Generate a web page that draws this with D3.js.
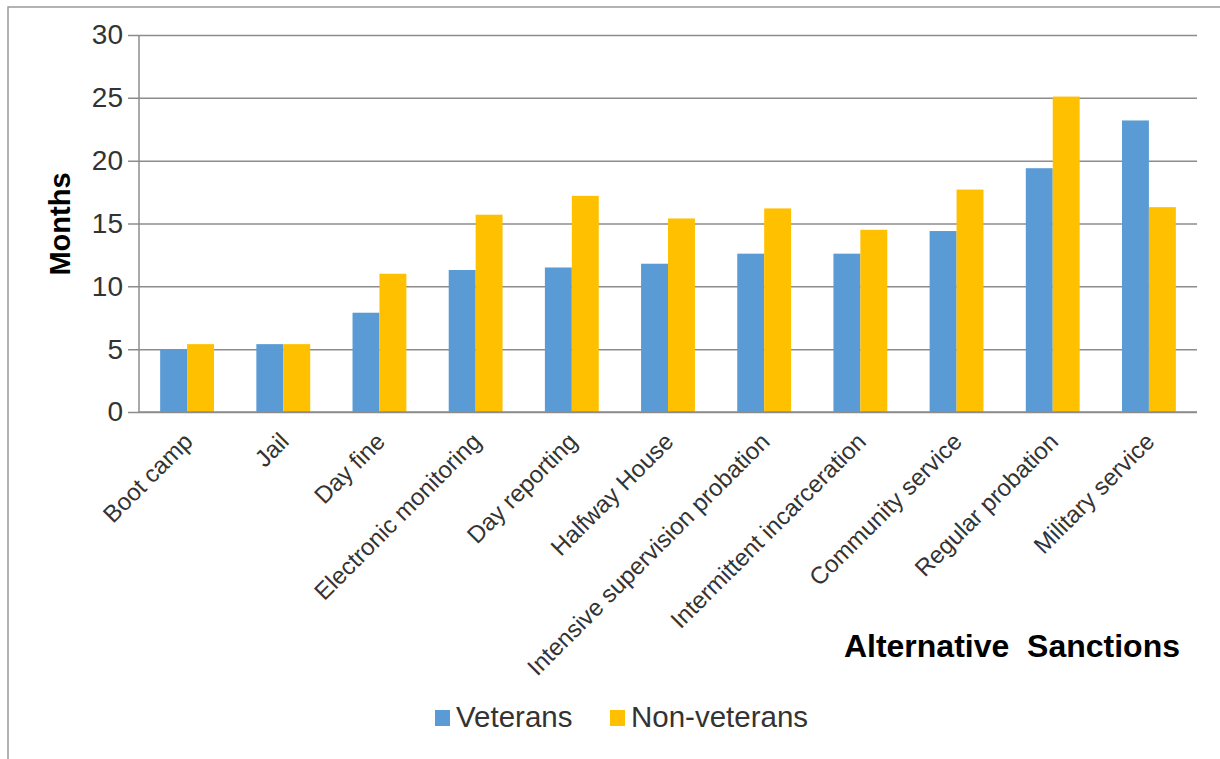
<!DOCTYPE html>
<html>
<head>
<meta charset="utf-8">
<script src="https://cdn.jsdelivr.net/npm/d3@7"></script>
<style>
    html, body { margin: 0; padding: 0; background: #fff; }
    text { font-family: Arial, "Liberation Sans", sans-serif; }
</style>
</head>
<body>
<div id="graphDiv"></div>
<script>
// data
var categories = ["Boot camp", "Jail", "Day fine", "Electronic monitoring", "Day reporting",
    "Halfway House", "Intensive supervision probation", "Intermittent incarceration",
    "Community service", "Regular probation", "Military service"];
var veterans = [5.0, 5.4, 7.9, 11.3, 11.5, 11.8, 12.6, 12.6, 14.4, 19.4, 23.2];
var nonVeterans = [5.4, 5.4, 11.0, 15.7, 17.2, 15.4, 16.2, 14.5, 17.7, 25.1, 16.3];
var seriesNames = ["Veterans", "Non-veterans"];
var yTicks = [0, 5, 10, 15, 20, 25, 30];

(function () {
    var colors = ["#5B9BD5", "#FFC000"];
    var W = 1220, H = 759;
    // plot area (px); "top" is taken by window.top so prefix everything
    var pLeft = 139, pRight = 1197, pTop = 35, pBottom = 412;

    var svg = d3.select("#graphDiv").append("svg")
        .attr("width", W)
        .attr("height", H);

    // outer chart border (cropped on right and bottom)
    svg.append("rect")
        .attr("x", 8).attr("y", 7)
        .attr("width", 1300).attr("height", 900)
        .attr("fill", "#fff")
        .attr("stroke", "#9a9a9a")
        .attr("stroke-width", 1.5);

    var xScale = d3.scaleBand()
        .domain(categories)
        .range([pLeft, pRight])
        .paddingInner(0.44)
        .paddingOuter(0.22);

    var xSub = d3.scaleBand()
        .domain(seriesNames)
        .range([0, xScale.bandwidth()]);

    var yScale = d3.scaleLinear()
        .domain([0, 30])
        .range([pBottom, pTop]);

    // gridlines + y axis
    var yAxis = d3.axisLeft(yScale)
        .tickValues(yTicks)
        .tickSize(-(pRight - pLeft))
        .tickPadding(16);

    var gy = svg.append("g")
        .attr("class", "y axis")
        .attr("transform", "translate(" + pLeft + ",0)")
        .call(yAxis);
    gy.select(".domain").remove();
    gy.selectAll(".tick line")
        .attr("x1", -11)
        .attr("stroke", "#8c8c8c")
        .attr("stroke-width", 1.5);
    gy.selectAll(".tick text")
        .attr("fill", "#333")
        .style("font-size", "28px");

    // vertical axis line
    svg.append("line")
        .attr("x1", pLeft).attr("x2", pLeft)
        .attr("y1", pTop).attr("y2", pBottom)
        .attr("stroke", "#8c8c8c")
        .attr("stroke-width", 1.5);

    // bars
    var groups = svg.append("g").attr("class", "bars")
        .selectAll("g")
        .data(categories)
        .enter().append("g")
        .attr("transform", function (d) { return "translate(" + xScale(d) + ",0)"; });

    groups.selectAll("rect")
        .data(function (d, i) {
            return [
                {name: seriesNames[0], value: veterans[i]},
                {name: seriesNames[1], value: nonVeterans[i]}
            ];
        })
        .enter().append("rect")
        .attr("x", function (d) { return xSub(d.name); })
        .attr("width", xSub.bandwidth())
        .attr("y", function (d) { return yScale(d.value); })
        .attr("height", function (d) { return yScale(0) - yScale(d.value); })
        .attr("fill", function (d, i) { return colors[i]; });

    // x axis line
    svg.append("line")
        .attr("x1", pLeft).attr("x2", pRight)
        .attr("y1", pBottom).attr("y2", pBottom)
        .attr("stroke", "#8c8c8c")
        .attr("stroke-width", 1.5);

    // category labels, rotated
    svg.append("g").attr("class", "x labels")
        .selectAll("text")
        .data(categories)
        .enter().append("text")
        .attr("text-anchor", "end")
        .attr("transform", function (d) {
            var cx = xScale(d) + xScale.bandwidth() / 2 + 7;
            return "translate(" + cx + ",443) rotate(-45)";
        })
        .attr("fill", "#333")
        .style("font-size", "24px")
        .text(function (d) { return d; });

    // axis titles
    svg.append("text")
        .attr("text-anchor", "middle")
        .attr("transform", "translate(70,224) rotate(-90)")
        .style("font-size", "29px")
        .style("font-weight", "bold")
        .attr("fill", "#000")
        .text("Months");

    svg.append("text")
        .attr("text-anchor", "end")
        .attr("x", 1180)
        .attr("y", 657)
        .style("font-size", "32px")
        .style("font-weight", "bold")
        .attr("fill", "#000")
        .text("Alternative\u00a0 Sanctions");

    // legend
    var legendX = [435, 610];
    var legend = svg.append("g").attr("class", "legend")
        .selectAll("g")
        .data(seriesNames)
        .enter().append("g")
        .attr("transform", function (d, i) { return "translate(" + legendX[i] + ",710)"; });

    legend.append("rect")
        .attr("width", 15).attr("height", 16)
        .attr("fill", function (d, i) { return colors[i]; });

    legend.append("text")
        .attr("x", 21)
        .attr("y", 17)
        .attr("fill", "#333")
        .style("font-size", "29.5px")
        .text(function (d) { return d; });
})();
</script>
</body>
</html>
